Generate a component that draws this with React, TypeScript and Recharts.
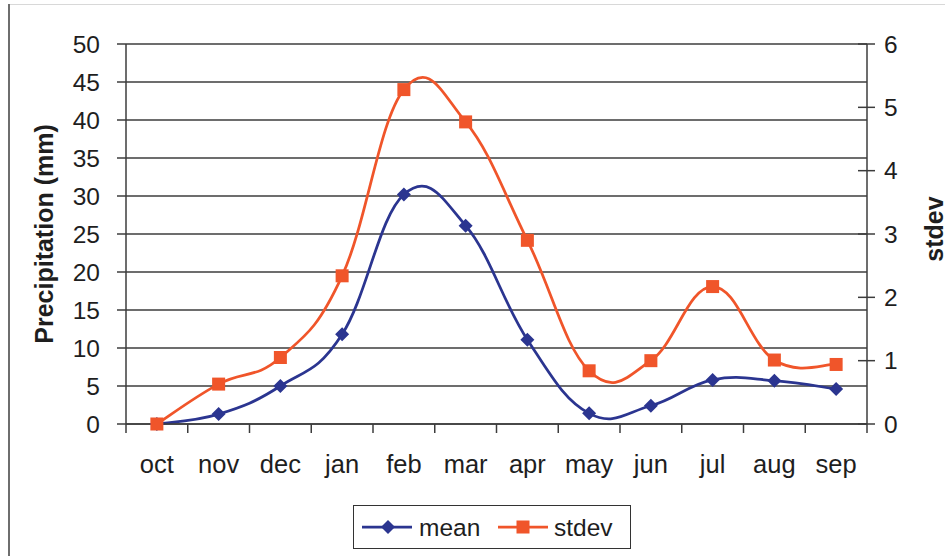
import { LineChart, Line, XAxis, YAxis, CartesianGrid } from 'recharts';

const months = ['oct', 'nov', 'dec', 'jan', 'feb', 'mar', 'apr', 'may', 'jun', 'jul', 'aug', 'sep'];
// mean precipitation, mm (left axis)
const meanValues = [0, 1.3, 5.0, 11.8, 30.2, 26.1, 11.1, 1.4, 2.4, 5.8, 5.7, 4.6];
// standard deviation (right axis)
const stdevValues = [0, 0.63, 1.05, 2.34, 5.28, 4.77, 2.9, 0.84, 1.0, 2.17, 1.01, 0.94];
const leftTicks = [0, 5, 10, 15, 20, 25, 30, 35, 40, 45, 50];
const rightTicks = [0, 1, 2, 3, 4, 5, 6];

const FONT = '"Liberation Sans", Arial, Helvetica, sans-serif';
const AXIS = '#3c3c3c';
const TEXT = '#1e1e1e';
const BLUE = '#2b3590';
const ORANGE = '#f0552a';

// Excel-like smoothed line (cardinal bezier through the points)
const SMOOTH = 0.2;
function excelCurve(context: any) {
  let pts: number[][] = [];
  return {
    areaStart() {},
    areaEnd() {},
    lineStart() {
      pts = [];
    },
    point(x: number, y: number) {
      pts.push([+x, +y]);
    },
    lineEnd() {
      const n = pts.length;
      if (!n) return;
      context.moveTo(pts[0][0], pts[0][1]);
      for (let i = 0; i < n - 1; i++) {
        const p0 = pts[Math.max(i - 1, 0)];
        const p1 = pts[i];
        const p2 = pts[i + 1];
        const p3 = pts[Math.min(i + 2, n - 1)];
        context.bezierCurveTo(
          p1[0] + (p2[0] - p0[0]) * SMOOTH,
          p1[1] + (p2[1] - p0[1]) * SMOOTH,
          p2[0] - (p3[0] - p1[0]) * SMOOTH,
          p2[1] - (p3[1] - p1[1]) * SMOOTH,
          p2[0],
          p2[1]
        );
      }
    },
  };
}

const Diamond = (props: any) => {
  const { cx, cy } = props;
  if (cx == null || cy == null) return null;
  const r = 7;
  return <path d={`M${cx},${cy - r}L${cx + r},${cy}L${cx},${cy + r}L${cx - r},${cy}Z`} fill={BLUE} />;
};

const Square = (props: any) => {
  const { cx, cy } = props;
  if (cx == null || cy == null) return null;
  return <rect x={cx - 6.5} y={cy - 6.5} width={13} height={13} fill={ORANGE} />;
};

const LeftTick = ({ x, y, payload }: any) => (
  <g>
    <line x1={x - 9} x2={x} y1={y} y2={y} stroke={AXIS} strokeWidth={1.5} />
    <text x={x - 26} y={y} textAnchor="end" dominantBaseline="central" fontSize={24.5} fill={TEXT} fontFamily={FONT}>
      {payload.value}
    </text>
  </g>
);

const RightTick = ({ x, y, payload }: any) => (
  <g>
    <line x1={x - 9} x2={x + 8} y1={y} y2={y} stroke={AXIS} strokeWidth={1.5} />
    <text x={x + 17} y={y} textAnchor="start" dominantBaseline="central" fontSize={24.5} fill={TEXT} fontFamily={FONT}>
      {payload.value}
    </text>
  </g>
);

const MonthTick = ({ x, y, payload, index, visibleTicksCount, width }: any) => {
  const half = payload.offset || width / visibleTicksCount / 2;
  return (
    <g>
      <line x1={x - half} x2={x - half} y1={y} y2={y + 9} stroke={AXIS} strokeWidth={1.5} />
      {index === visibleTicksCount - 1 && (
        <line x1={x + half} x2={x + half} y1={y} y2={y + 9} stroke={AXIS} strokeWidth={1.5} />
      )}
      <text x={x} y={y + 49} textAnchor="middle" fontSize={25.5} fill={TEXT} fontFamily={FONT}>
        {payload.value}
      </text>
    </g>
  );
};

export default function App() {
  const data = months.map((m, i) => ({ month: m, mean: meanValues[i], stdev: stdevValues[i] }));

  return (
    <div style={{ position: 'absolute', left: 0, top: 0, width: 948, height: 556, background: '#fff', fontFamily: FONT }}>
      <div style={{ position: 'absolute', left: 9, top: 4, width: 936, height: 0, borderTop: '1px solid #d8d8d8' }} />
      <div style={{ position: 'absolute', left: 8, top: 4, width: 0, height: 552, borderLeft: '2px solid #6e6e6e' }} />
      <LineChart width={948} height={556} data={data} margin={{ top: 44, right: 0, bottom: 0, left: 0 }}>
        <CartesianGrid yAxisId="left" vertical={false} stroke={AXIS} strokeWidth={1.5} />
        <XAxis
          dataKey="month"
          scale="band"
          height={132}
          tickSize={0}
          tickMargin={0}
          tickLine={false}
          axisLine={{ stroke: AXIS, strokeWidth: 1.5 }}
          tick={<MonthTick />}
          interval={0}
        />
        <YAxis
          yAxisId="left"
          width={126}
          domain={[0, 50]}
          ticks={leftTicks}
          tickSize={0}
          tickMargin={0}
          tickLine={false}
          axisLine={{ stroke: AXIS, strokeWidth: 1.5 }}
          tick={<LeftTick />}
          interval={0}
          label={({ viewBox }: any) => {
            const cx = viewBox.x + 44;
            const cy = viewBox.y + viewBox.height / 2;
            return (
              <text
                x={cx}
                y={cy}
                transform={`rotate(-90, ${cx}, ${cy})`}
                textAnchor="middle"
                dominantBaseline="central"
                fontSize={25}
                fontWeight="bold"
                fill={TEXT}
                fontFamily={FONT}
              >
                Precipitation (mm)
              </text>
            );
          }}
        />
        <YAxis
          yAxisId="right"
          orientation="right"
          width={81}
          domain={[0, 6]}
          ticks={rightTicks}
          tickSize={0}
          tickMargin={0}
          tickLine={false}
          axisLine={{ stroke: AXIS, strokeWidth: 1.5 }}
          tick={<RightTick />}
          interval={0}
          label={({ viewBox }: any) => {
            const cx = viewBox.x + 67;
            const cy = viewBox.y + viewBox.height / 2 - 5;
            return (
              <text
                x={cx}
                y={cy}
                transform={`rotate(-90, ${cx}, ${cy})`}
                textAnchor="middle"
                dominantBaseline="central"
                fontSize={25}
                fontWeight="bold"
                fill={TEXT}
                fontFamily={FONT}
              >
                stdev
              </text>
            );
          }}
        />
        <Line
          yAxisId="left"
          type={excelCurve as any}
          dataKey="mean"
          stroke={BLUE}
          strokeWidth={2.75}
          dot={<Diamond />}
          activeDot={false}
          isAnimationActive={false}
        />
        <Line
          yAxisId="right"
          type={excelCurve as any}
          dataKey="stdev"
          stroke={ORANGE}
          strokeWidth={2.75}
          dot={<Square />}
          activeDot={false}
          isAnimationActive={false}
        />
      </LineChart>
      <div
        style={{
          position: 'absolute',
          left: 353,
          top: 505,
          width: 276,
          height: 42,
          border: '1.5px solid #333',
          background: '#fff',
        }}
      >
        <svg width={276} height={42} style={{ display: 'block' }}>
          <line x1={8} x2={58} y1={21} y2={21} stroke={BLUE} strokeWidth={2.75} />
          <path d="M34,14L41,21L34,28L27,21Z" fill={BLUE} />
          <text x={65} y={21} dominantBaseline="central" fontSize={24.5} fill={TEXT} fontFamily={FONT}>
            mean
          </text>
          <line x1={144} x2={194} y1={21} y2={21} stroke={ORANGE} strokeWidth={2.75} />
          <rect x={162.5} y={14.5} width={13} height={13} fill={ORANGE} />
          <text x={200} y={21} dominantBaseline="central" fontSize={24.5} fill={TEXT} fontFamily={FONT}>
            stdev
          </text>
        </svg>
      </div>
    </div>
  );
}
